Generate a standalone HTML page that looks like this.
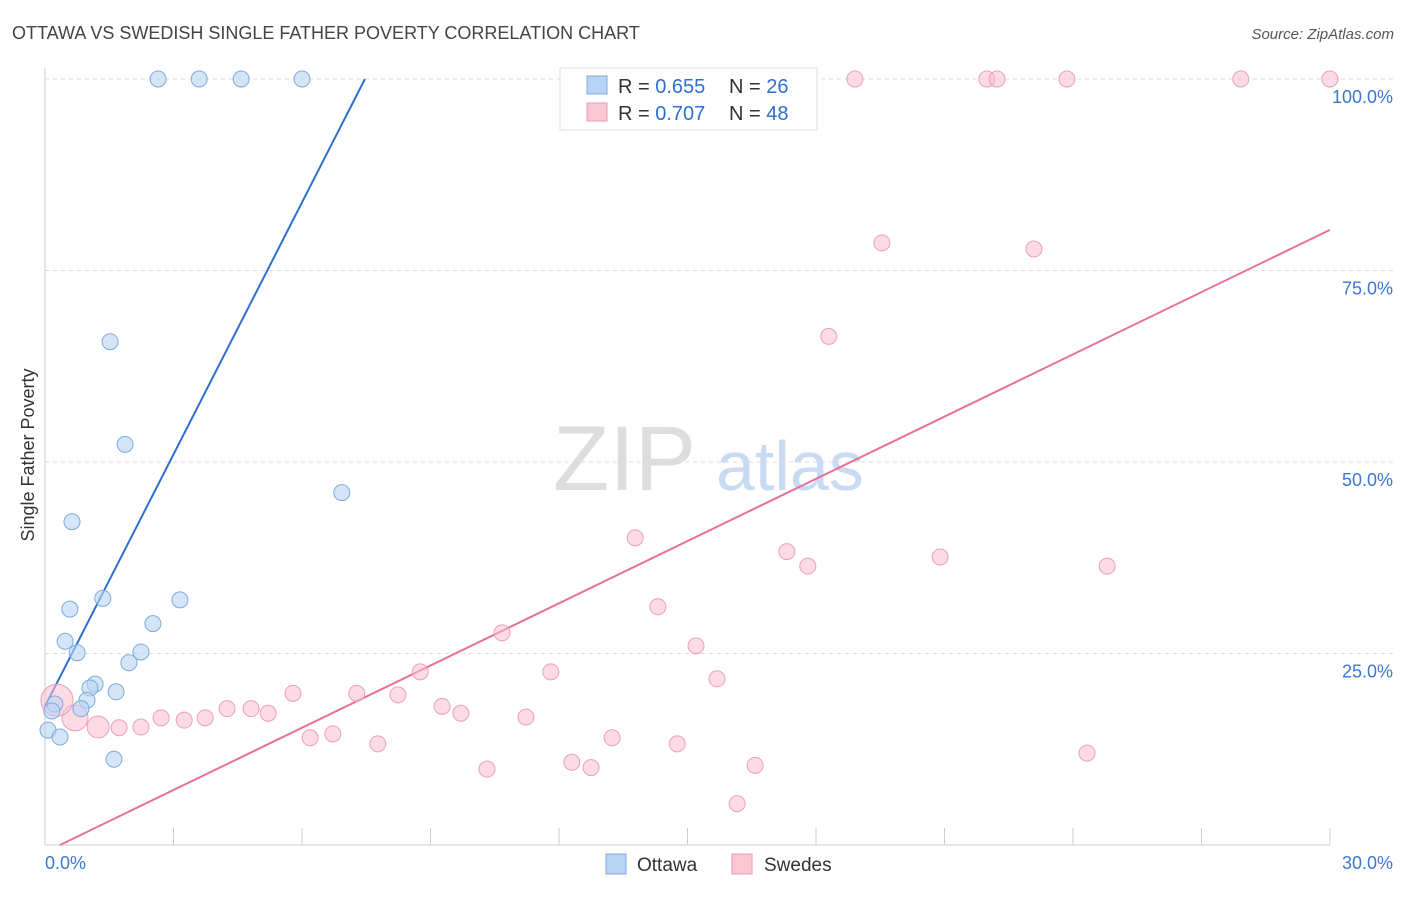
<!DOCTYPE html>
<html><head><meta charset="utf-8"><style>
body{margin:0;background:#fff;font-family:"Liberation Sans",sans-serif;}
svg text{font-family:"Liberation Sans",sans-serif;}
</style></head><body>
<svg id="chart" width="1406" height="892">
<text x="12" y="39" font-size="18" fill="#444">OTTAWA VS SWEDISH SINGLE FATHER POVERTY CORRELATION CHART</text>
<text x="1394" y="39" font-size="15" fill="#555" font-style="italic" text-anchor="end">Source: ZipAtlas.com</text>
<text x="34" y="455" font-size="18" fill="#333" text-anchor="middle" transform="rotate(-90 34 455)">Single Father Poverty</text>
<text x="553" y="490" font-size="92" fill="#ddd" font-family="Liberation Serif">ZIP</text>
<text x="716" y="490" font-size="70" fill="#c9dbf2">atlas</text>
<g id="grid"></g><g id="lines"></g><g id="pts"></g>
<g>
<rect x="560" y="68" width="257" height="62" fill="#fff" stroke="#ddd"/>
<rect x="587" y="76" width="20" height="18" fill="#b9d3f3" stroke="#7fa9dd"/>
<rect x="587" y="103" width="20" height="18" fill="#f9c6d5" stroke="#e99ab2"/>
<text x="618" y="93" font-size="20" fill="#333">R = <tspan fill="#2f6fd0">0.655</tspan></text>
<text x="729" y="93" font-size="20" fill="#333">N = <tspan fill="#2f6fd0">26</tspan></text>
<text x="618" y="120" font-size="20" fill="#333">R = <tspan fill="#2f6fd0">0.707</tspan></text>
<text x="729" y="120" font-size="20" fill="#333">N = <tspan fill="#2f6fd0">48</tspan></text>
</g>
<g>
<rect x="606" y="854" width="20" height="20" fill="#b9d3f3" stroke="#7fa9dd"/>
<text x="637" y="871" font-size="19" fill="#333">Ottawa</text>
<rect x="732" y="854" width="20" height="20" fill="#f9c6d5" stroke="#e99ab2"/>
<text x="764" y="871" font-size="19" fill="#333">Swedes</text>
</g>
</svg>
<script>
const xTicks=[0,30];
const yTicks=[25,50,75,100];
const ottX=[2.64,3.60,4.58,6.0,1.52,1.87,6.93,0.63,0.58,1.35,3.15,2.52,0.47,0.75,2.24,1.96,1.17,1.05,1.66,0.98,0.23,0.84,0.16,0.07,0.35,1.61];
const ottY=[100,100,100,100,65.7,52.3,46.0,42.2,30.8,32.2,32.0,28.9,26.6,25.1,25.2,23.8,21.0,20.5,20.0,18.9,18.4,17.8,17.5,15.0,14.1,11.2];
const sweX=[18.91,21.99,22.23,23.86,27.92,30.0,19.54,23.09,18.30,13.78,17.32,17.81,20.90,24.80,14.31,10.67,15.20,11.81,8.76,15.69,5.79,7.28,8.24,4.25,4.81,5.21,9.27,9.71,2.71,3.25,3.74,11.23,2.24,1.73,1.24,0.70,0.28,6.19,6.72,7.77,13.24,14.76,10.32,12.30,12.75,16.58,24.33,16.16];
const sweY=[100,100,100,100,100,100,78.6,77.8,66.4,40.1,38.3,36.4,37.6,36.4,31.1,27.7,26.0,22.6,22.6,21.7,19.8,19.8,19.6,17.8,17.8,17.2,18.1,17.2,16.6,16.3,16.6,16.7,15.4,15.3,15.4,16.6,18.9,14.0,14.5,13.2,14.0,13.2,9.9,10.8,10.1,10.4,12.0,5.4];
const sweR=[8,8,8,8,8,8,8,8,8,8,8,8,8,8,8,8,8,8,8,8,8,8,8,8,8,8,8,8,8,8,8,8,8,8,11,13,16,8,8,8,8,8,8,8,8,8,8,8];
const ottFit=[[0,18.1],[7.47,100]];
const sweFit=[[0.35,0],[30,80.3]];
const X=v=>45+v*42.83, Y=v=>845-v*7.66;
const NS='http://www.w3.org/2000/svg';
function mk(t,a,p){const e=document.createElementNS(NS,t);for(const k in a)e.setAttribute(k,a[k]);document.getElementById(p).appendChild(e);return e;}
let ax=mk('line',{x1:45,y1:68,x2:45,y2:845,stroke:'#ccc'},'grid');


let bx=mk('line',{x1:45,y1:845,x2:1330,y2:845,stroke:'#ccc'},'grid');


for(let i=1;i<=10;i++){const t=mk('line',{x1:45+i*128.5,y1:828,x2:45+i*128.5,y2:845,stroke:'#ccc'},'grid');

}
yTicks.forEach(v=>{const g=mk('line',{x1:45,y1:Y(v),x2:1394,y2:Y(v),stroke:'#ddd','stroke-dasharray':'4,4'},'grid');


const t=mk('text',{x:1393,y:Y(v)+24,'font-size':18,fill:'#3b78d4','text-anchor':'end'},'grid');t.textContent=v.toFixed(1)+'%';

});
xTicks.forEach((v,i)=>{const t=mk('text',{x:i?1393:45,y:869,'font-size':18,fill:'#3b78d4','text-anchor':i?'end':'start'},'grid');t.textContent=v.toFixed(1)+'%';

});
let l1=mk('line',{x1:X(ottFit[0][0]),y1:Y(ottFit[0][1]),x2:X(ottFit[1][0]),y2:Y(ottFit[1][1]),stroke:'#2f6fd0','stroke-width':2},'lines');


let l2=mk('line',{x1:X(sweFit[0][0]),y1:Y(sweFit[0][1]),x2:X(sweFit[1][0]),y2:Y(sweFit[1][1]),stroke:'#e8709a','stroke-width':2},'lines');


sweX.forEach((v,i)=>{const c=mk('circle',{cx:X(v),cy:Y(sweY[i]),r:sweR[i],fill:'rgba(249,190,208,0.55)',stroke:'#eaa0b8'},'pts');

});
ottX.forEach((v,i)=>{const c=mk('circle',{cx:X(v),cy:Y(ottY[i]),r:8,fill:'rgba(185,211,243,0.6)',stroke:'#7fa9dd'},'pts');

});
</script>
</body></html>
